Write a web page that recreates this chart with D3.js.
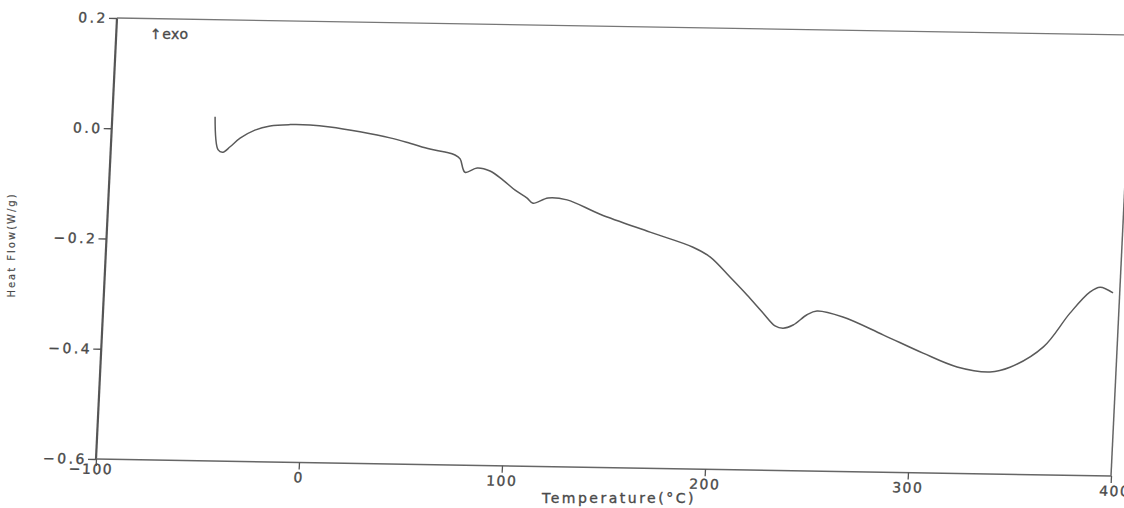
<!DOCTYPE html>
<html><head><meta charset="utf-8">
<script src="https://cdn.jsdelivr.net/npm/d3@7"></script>
<style>
body{margin:0;background:#fff;}
svg{display:block;}
text{font-family:"DejaVu Sans",sans-serif;fill:#4a4a4a;stroke:#4a4a4a;stroke-width:0.35px;}
</style></head>
<body><svg id="c" width="1124" height="508"></svg>
<script>
// Tick values and labels
const xTicks = [-100, 0, 100, 200, 300, 400];
const xLabels = ["−100", "0", "100", "200", "300", "400"];
const yTicks = [-0.6, -0.4, -0.2, 0.0, 0.2];
const yLabels = ["−0.6", "−0.4", "−0.2", "0.0", "0.2"];
// DSC curve: temperature (°C) and heat flow (W/g)
const temperature = [-49.4,-47.1,-44.7,-41.3,-36.6,-29.5,-22.1,-12.3,-2.5,7.4,22.3,37.2,47.1,57.1,64.6,69.6,72.2,74.9,80.8,87.2,93.8,100.0,106.1,109.1,116.4,125.8,142.4,167.4,188.9,197.5,207.8,216.6,224.9,231.1,235.1,240.0,246.6,251.4,264.3,284.5,304.6,321.7,338.0,347.7,363.7,376.0,385.4,390.2,396.7];
const heatFlow = [0.024,-0.036,-0.040,-0.030,-0.014,0.001,0.009,0.012,0.012,0.009,0.001,-0.009,-0.018,-0.028,-0.033,-0.038,-0.045,-0.069,-0.061,-0.066,-0.082,-0.100,-0.114,-0.123,-0.113,-0.116,-0.141,-0.172,-0.198,-0.215,-0.251,-0.283,-0.315,-0.338,-0.342,-0.336,-0.317,-0.310,-0.320,-0.351,-0.383,-0.407,-0.415,-0.406,-0.368,-0.306,-0.267,-0.258,-0.268];

const W = 1015, H = 441;
const sx = d3.scaleLinear().domain([-100, 400]).range([0, W]);
const sy = d3.scaleLinear().domain([-0.6, 0.2]).range([0, -H]);

const svg = d3.select("#c");
// scanned page is slightly sheared/rotated: affine frame
const g = svg.append("g").attr("transform", `matrix(1,${17/1015},${-21/441},1,96,459)`);

// frame
g.append("line").attr("x1", 0).attr("y1", 0).attr("x2", 0).attr("y2", -H)
  .attr("stroke", "#555").attr("stroke-width", 2.2);
g.append("line").attr("x1", 0).attr("y1", -H).attr("x2", W + 20).attr("y2", -H)
  .attr("stroke", "#777").attr("stroke-width", 1.3);
g.append("line").attr("x1", 0).attr("y1", 0).attr("x2", W).attr("y2", 0)
  .attr("stroke", "#666").attr("stroke-width", 1.5);
g.append("line").attr("x1", W).attr("y1", 0).attr("x2", W).attr("y2", -H)
  .attr("stroke", "#666").attr("stroke-width", 1.5);

const yAxis = g.append("g").call(d3.axisLeft(sy).tickValues(yTicks)
  .tickFormat((d, i) => yLabels[i]).tickSize(8).tickPadding(1));
yAxis.select(".domain").remove();
yAxis.selectAll("line").attr("stroke", "#555").attr("stroke-width", 1.3);
yAxis.selectAll("text").attr("font-size", 14).attr("letter-spacing", "2.5px")
  .attr("font-family", "DejaVu Sans").attr("fill", "#4a4a4a");

const xAxis = g.append("g").call(d3.axisBottom(sx).tickValues(xTicks)
  .tickFormat((d, i) => xLabels[i]).tickSize(7).tickPadding(3));
xAxis.select(".domain").remove();
xAxis.selectAll("line").attr("stroke", "#555").attr("stroke-width", 1.3);
xAxis.selectAll("text").attr("font-size", 14).attr("letter-spacing", "1.5px")
  .attr("font-family", "DejaVu Sans").attr("fill", "#4a4a4a");
xAxis.selectAll(".tick").filter(d => d === -100).select("text")
  .attr("y", 5).attr("dx", "-5px");
xAxis.selectAll(".tick").filter(d => d === 400).select("text")
  .attr("dx", "4px");

// curve
const pts = temperature.map((t, i) => [t, heatFlow[i]]);
g.append("path").datum(pts)
  .attr("d", d3.line().x(d => sx(d[0])).y(d => sy(d[1])).curve(d3.curveCatmullRom.alpha(0.5)))
  .attr("fill", "none").attr("stroke", "#5a5a5a").attr("stroke-width", 1.5);

// labels
svg.append("text").attr("x", 150).attr("y", 39).attr("font-size", 14)
  .attr("letter-spacing", "0.5px").text("↑exo");
svg.append("text").attr("x", 619).attr("y", 503).attr("text-anchor", "middle")
  .attr("font-size", 14).attr("letter-spacing", "2.5px").text("Temperature(°C)");
svg.append("text").attr("transform", "translate(15,245) rotate(-90)")
  .attr("text-anchor", "middle").attr("font-size", 10).attr("letter-spacing", "2px")
  .style("stroke-width", "0.15px").text("Heat Flow(W/g)");
</script></body></html>
